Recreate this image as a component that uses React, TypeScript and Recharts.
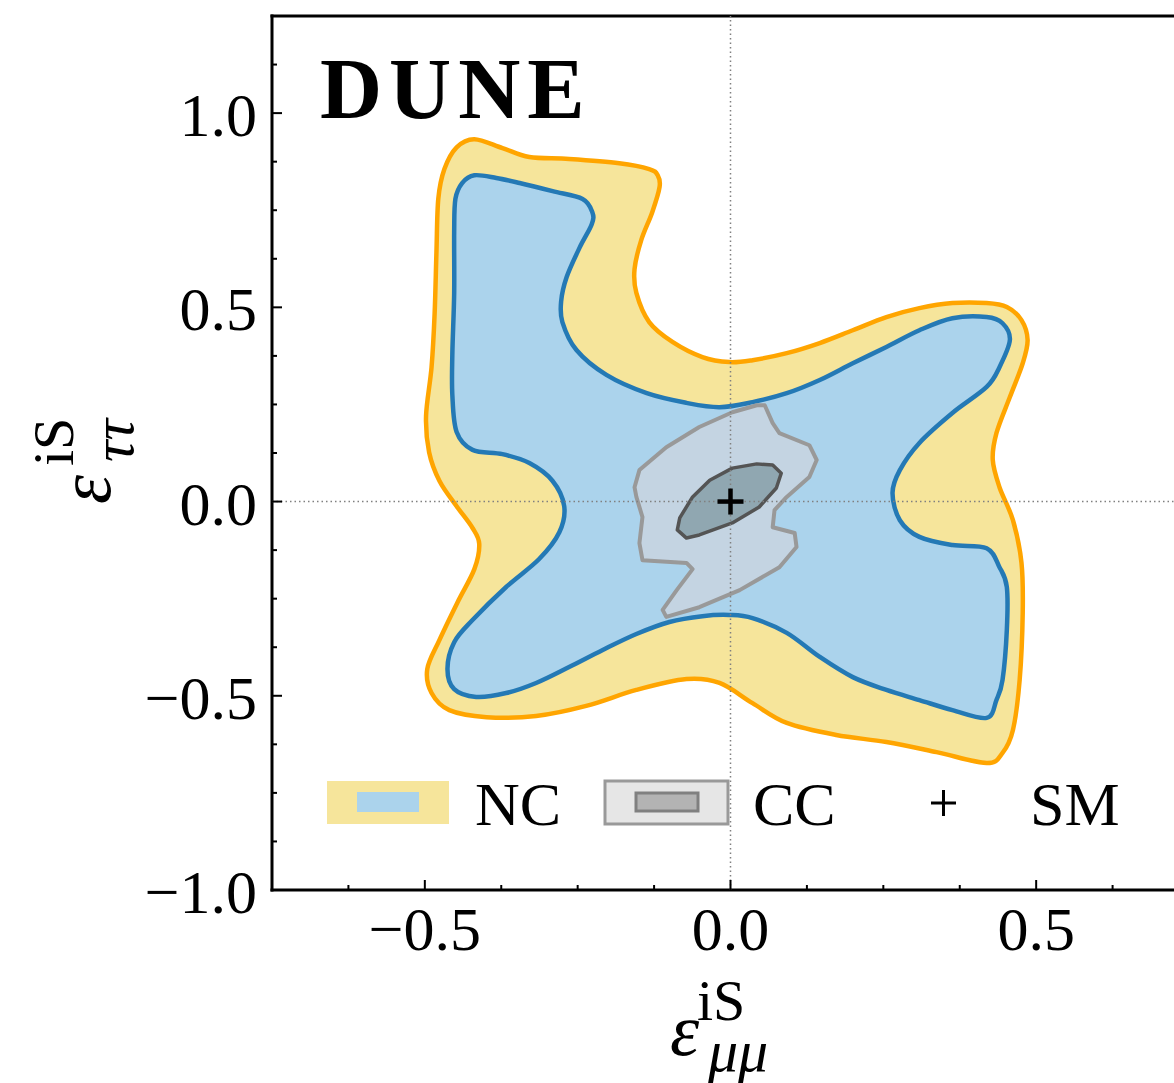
import React from "react";
import { ScatterChart, Scatter, XAxis, YAxis, ReferenceLine } from "recharts";

document.body.style.margin = "0";

// contour outlines, [eps_mumu, eps_tautau]
const ncOuter: [number, number][] = [
  [-0.419, 0.933], [-0.448, 0.912], [-0.468, 0.856], [-0.478, 0.779], [-0.481, 0.642],
  [-0.484, 0.483], [-0.489, 0.346], [-0.498, 0.22], [-0.493, 0.127], [-0.476, 0.053],
  [-0.448, -0.012], [-0.422, -0.068], [-0.411, -0.109], [-0.419, -0.174], [-0.447, -0.261],
  [-0.476, -0.356], [-0.496, -0.431], [-0.489, -0.493], [-0.46, -0.537], [-0.399, -0.555],
  [-0.318, -0.552], [-0.236, -0.526], [-0.154, -0.485], [-0.072, -0.457], [-0.018, -0.467],
  [0.036, -0.519], [0.092, -0.57], [0.173, -0.601], [0.255, -0.619], [0.337, -0.645],
  [0.419, -0.673], [0.445, -0.647], [0.462, -0.588], [0.473, -0.459], [0.478, -0.287],
  [0.476, -0.158], [0.462, -0.048], [0.44, 0.037], [0.429, 0.107], [0.435, 0.176],
  [0.457, 0.269], [0.478, 0.356], [0.486, 0.416], [0.476, 0.467], [0.452, 0.501],
  [0.419, 0.511], [0.363, 0.511], [0.309, 0.498], [0.255, 0.475], [0.2, 0.441],
  [0.146, 0.408], [0.092, 0.382], [0.036, 0.364], [-0.002, 0.359], [-0.046, 0.372],
  [-0.095, 0.411], [-0.133, 0.462], [-0.154, 0.537], [-0.157, 0.598], [-0.146, 0.673],
  [-0.128, 0.745], [-0.116, 0.81], [-0.119, 0.84], [-0.133, 0.856], [-0.182, 0.871],
  [-0.264, 0.882], [-0.329, 0.887], [-0.373, 0.91],
];

const ncInner: [number, number][] = [
  [-0.419, 0.84], [-0.439, 0.82], [-0.45, 0.779], [-0.452, 0.694], [-0.452, 0.537],
  [-0.455, 0.38], [-0.455, 0.274], [-0.448, 0.179], [-0.422, 0.133], [-0.373, 0.122],
  [-0.329, 0.099], [-0.291, 0.053], [-0.272, -0.012], [-0.28, -0.079], [-0.313, -0.148],
  [-0.367, -0.22], [-0.422, -0.305], [-0.452, -0.362], [-0.463, -0.431], [-0.452, -0.483],
  [-0.416, -0.503], [-0.367, -0.493], [-0.318, -0.467], [-0.264, -0.426], [-0.209, -0.382],
  [-0.154, -0.341], [-0.1, -0.31], [-0.046, -0.295], [-0.002, -0.292], [0.036, -0.3],
  [0.092, -0.338], [0.146, -0.4], [0.2, -0.452], [0.255, -0.485], [0.309, -0.511],
  [0.363, -0.537], [0.419, -0.557], [0.435, -0.511], [0.445, -0.459], [0.452, -0.331],
  [0.452, -0.22], [0.44, -0.169], [0.419, -0.12], [0.363, -0.112], [0.309, -0.091],
  [0.277, -0.048], [0.265, 0.022], [0.277, 0.081], [0.309, 0.151], [0.363, 0.228],
  [0.419, 0.295], [0.44, 0.346], [0.457, 0.416], [0.445, 0.459], [0.419, 0.475],
  [0.363, 0.472], [0.309, 0.441], [0.255, 0.398], [0.2, 0.356], [0.146, 0.313],
  [0.092, 0.279], [0.036, 0.256], [-0.018, 0.243], [-0.072, 0.254], [-0.137, 0.279],
  [-0.203, 0.326], [-0.252, 0.39], [-0.275, 0.462], [-0.277, 0.516], [-0.268, 0.578],
  [-0.247, 0.653], [-0.227, 0.714], [-0.226, 0.745], [-0.242, 0.779], [-0.291, 0.799],
  [-0.345, 0.82], [-0.383, 0.833],
];

const ccOuter: [number, number][] = [
  [0.056, 0.248], [0.069, 0.202], [0.08, 0.176], [0.129, 0.145], [0.141, 0.107],
  [0.129, 0.063], [0.092, 0.012], [0.072, -0.022], [0.069, -0.066], [0.105, -0.081],
  [0.108, -0.117], [0.08, -0.169], [0.015, -0.228], [-0.051, -0.272], [-0.105, -0.297],
  [-0.111, -0.279], [-0.088, -0.228], [-0.062, -0.174], [-0.072, -0.158], [-0.144, -0.151],
  [-0.149, -0.107], [-0.144, -0.04], [-0.154, 0.012], [-0.157, 0.037], [-0.149, 0.081],
  [-0.105, 0.14], [-0.051, 0.192], [0.003, 0.23], [0.043, 0.248],
];

const ccInner: [number, number][] = [
  [0.069, 0.094], [0.083, 0.073], [0.075, 0.035], [0.047, -0.014], [0.003, -0.055],
  [-0.051, -0.086], [-0.072, -0.094], [-0.087, -0.073], [-0.083, -0.042], [-0.062, 0.012],
  [-0.034, 0.055], [0.003, 0.086], [0.043, 0.097],
];

const smPoint: [number, number][] = [[0, 0]];

const xTicks = [-0.625, -0.5, -0.375, -0.25, -0.125, 0, 0.125, 0.25, 0.375, 0.5, 0.625];
const xMajor = [-0.5, 0, 0.5];
const yTicks = [-1, -0.875, -0.75, -0.625, -0.5, -0.375, -0.25, -0.125, 0, 0.125, 0.25, 0.375, 0.5, 0.625, 0.75, 0.875, 1, 1.125];
const yMajor = [-1, -0.5, 0, 0.5, 1];

const FONT = "'Liberation Serif', 'Times New Roman', serif";
const pts = (a: [number, number][]) => a.map(([x, y]) => ({ x, y }));
const fmt = (v: number) => (v < 0 ? "\u2212" : "") + Math.abs(v).toFixed(1);

// closed outline through the scatter points, optionally smoothed (catmull-rom)
const contour = (fill: string, stroke: string, width: number, smooth: boolean) => (props: any) => {
  const p: { x: number; y: number }[] = props.points ?? [];
  if (p.length < 3) return <g />;
  let d = `M${p[0].x},${p[0].y}`;
  const n = p.length;
  for (let i = 0; i < n; i++) {
    const p0 = p[(i - 1 + n) % n], p1 = p[i], p2 = p[(i + 1) % n], p3 = p[(i + 2) % n];
    if (smooth) {
      const c1x = p1.x + (p2.x - p0.x) / 6, c1y = p1.y + (p2.y - p0.y) / 6;
      const c2x = p2.x - (p3.x - p1.x) / 6, c2y = p2.y - (p3.y - p1.y) / 6;
      d += ` C${c1x},${c1y} ${c2x},${c2y} ${p2.x},${p2.y}`;
    } else {
      d += ` L${p2.x},${p2.y}`;
    }
  }
  return <path d={d + " Z"} fill={fill} stroke={stroke} strokeWidth={width} strokeLinejoin="round" />;
};

const Hidden = () => <g />;

function Plus({ cx, cy }: any) {
  return (
    <g stroke="#000" strokeWidth={4.5}>
      <line x1={cx - 13} x2={cx + 13} y1={cy} y2={cy} />
      <line x1={cx} x2={cx} y1={cy - 13} y2={cy + 13} />
    </g>
  );
}

function BottomTick({ x, y, payload }: any) {
  const major = xMajor.includes(payload.value);
  return (
    <g>
      <line x1={x} x2={x} y1={y} y2={y - (major ? 10 : 5)} stroke="#000" strokeWidth={2} />
      {major && (
        <text x={x} y={y + 60} textAnchor="middle" fontFamily={FONT} fontSize={62} fill="#000">
          {fmt(payload.value)}
        </text>
      )}
    </g>
  );
}

function TopTick({ x, y, payload }: any) {
  const major = xMajor.includes(payload.value);
  return <line x1={x} x2={x} y1={y} y2={y + (major ? 10 : 5)} stroke="#000" strokeWidth={2} />;
}

function LeftTick({ x, y, payload }: any) {
  const major = yMajor.includes(payload.value);
  return (
    <g>
      <line x1={x} x2={x + (major ? 10 : 5)} y1={y} y2={y} stroke="#000" strokeWidth={2} />
      {major && (
        <text x={x - 15} y={y + 23} textAnchor="end" fontFamily={FONT} fontSize={62} fill="#000">
          {fmt(payload.value)}
        </text>
      )}
    </g>
  );
}

function RightTick({ x, y, payload }: any) {
  const major = yMajor.includes(payload.value);
  return <line x1={x} x2={x - (major ? 10 : 5)} y1={y} y2={y} stroke="#000" strokeWidth={2} />;
}

const spine = { stroke: "#000", strokeWidth: 3, strokeLinecap: "square" as const };

export default function App() {
  return (
    <div style={{ position: "relative", width: 1174, height: 1083, overflow: "hidden", background: "#fff" }}>
      <ScatterChart width={1210} height={1083} margin={{ top: 0, right: 0, bottom: 0, left: 0 }}>
        <XAxis type="number" dataKey="x" domain={[-0.75, 0.75]} allowDataOverflow ticks={xTicks} interval={0}
          height={193} tickSize={0} tickMargin={0} tickLine={false} tick={<BottomTick />} axisLine={spine} />
        <XAxis xAxisId="top" orientation="top" type="number" domain={[-0.75, 0.75]} allowDataOverflow ticks={xTicks}
          interval={0} height={16} tickSize={0} tickMargin={0} tickLine={false} tick={<TopTick />} axisLine={spine} />
        <YAxis type="number" dataKey="y" domain={[-1, 1.25]} allowDataOverflow ticks={yTicks} interval={0}
          width={272} tickSize={0} tickMargin={0} tickLine={false} tick={<LeftTick />} axisLine={spine} />
        <YAxis yAxisId="right" orientation="right" type="number" domain={[-1, 1.25]} allowDataOverflow ticks={yTicks}
          interval={0} width={21} tickSize={0} tickMargin={0} tickLine={false} tick={<RightTick />} axisLine={spine} />

        <Scatter data={pts(ncOuter)} shape={Hidden} line={contour("#f6e59b", "#ffa500", 4.5, true)} isAnimationActive={false} />
        <Scatter data={pts(ncInner)} shape={Hidden} line={contour("#abd3ec", "#2479b5", 4.5, true)} isAnimationActive={false} />
        <Scatter data={pts(ccOuter)} shape={Hidden} line={contour("#c4d4e2", "#999999", 4, false)} isAnimationActive={false} />
        <Scatter data={pts(ccInner)} shape={Hidden} line={contour("#90a7b1", "#545454", 3.5, false)} isAnimationActive={false} />

        <ReferenceLine x={0} stroke="#808080" strokeWidth={1.5} strokeDasharray="1.5 3" zIndex={1000} />
        <ReferenceLine y={0} stroke="#808080" strokeWidth={1.5} strokeDasharray="1.5 3" zIndex={1000} />

        <Scatter data={pts(smPoint)} shape={<Plus />} isAnimationActive={false} zIndex={1100} />
      </ScatterChart>

      <svg width={1174} height={1083} style={{ position: "absolute", left: 0, top: 0, pointerEvents: "none" }}
        fontFamily={FONT}>
        <text x={320} y={118} fontSize={86} fontWeight="bold" letterSpacing={7}>DUNE</text>

        {/* x label */}
        <text x={670} y={1055}>
          <tspan fontSize={74} fontStyle="italic">ε</tspan>
          <tspan x={697} y={1020} fontSize={58}>iS</tspan>
          <tspan x={708} y={1071} fontSize={60} fontStyle="italic">μμ</tspan>
        </text>

        {/* y label */}
        <text transform="rotate(-90)" x={-504} y={110}>
          <tspan fontSize={74} fontStyle="italic">ε</tspan>
          <tspan x={-466} y={73} fontSize={58}>iS</tspan>
          <tspan x={-462} y={133} fontSize={60} fontStyle="italic">ττ</tspan>
        </text>

        {/* legend */}
        <rect x={327} y={781} width={122} height={43} fill="#f6e59b" />
        <rect x={357} y={792} width={62} height={20} fill="#abd3ec" />
        <text x={475} y={825} fontSize={62}>NC</text>
        <rect x={605} y={781} width={123} height={43} fill="#e6e6e6" stroke="#999999" strokeWidth={3} />
        <rect x={636} y={793} width={62} height={18} fill="#b3b3b3" stroke="#808080" strokeWidth={3} />
        <text x={753} y={825} fontSize={62}>CC</text>
        <g stroke="#000" strokeWidth={3}>
          <line x1={931} x2={956} y1={803} y2={803} />
          <line x1={943.5} x2={943.5} y1={790} y2={816} />
        </g>
        <text x={1030} y={825} fontSize={62}>SM</text>
      </svg>
    </div>
  );
}
